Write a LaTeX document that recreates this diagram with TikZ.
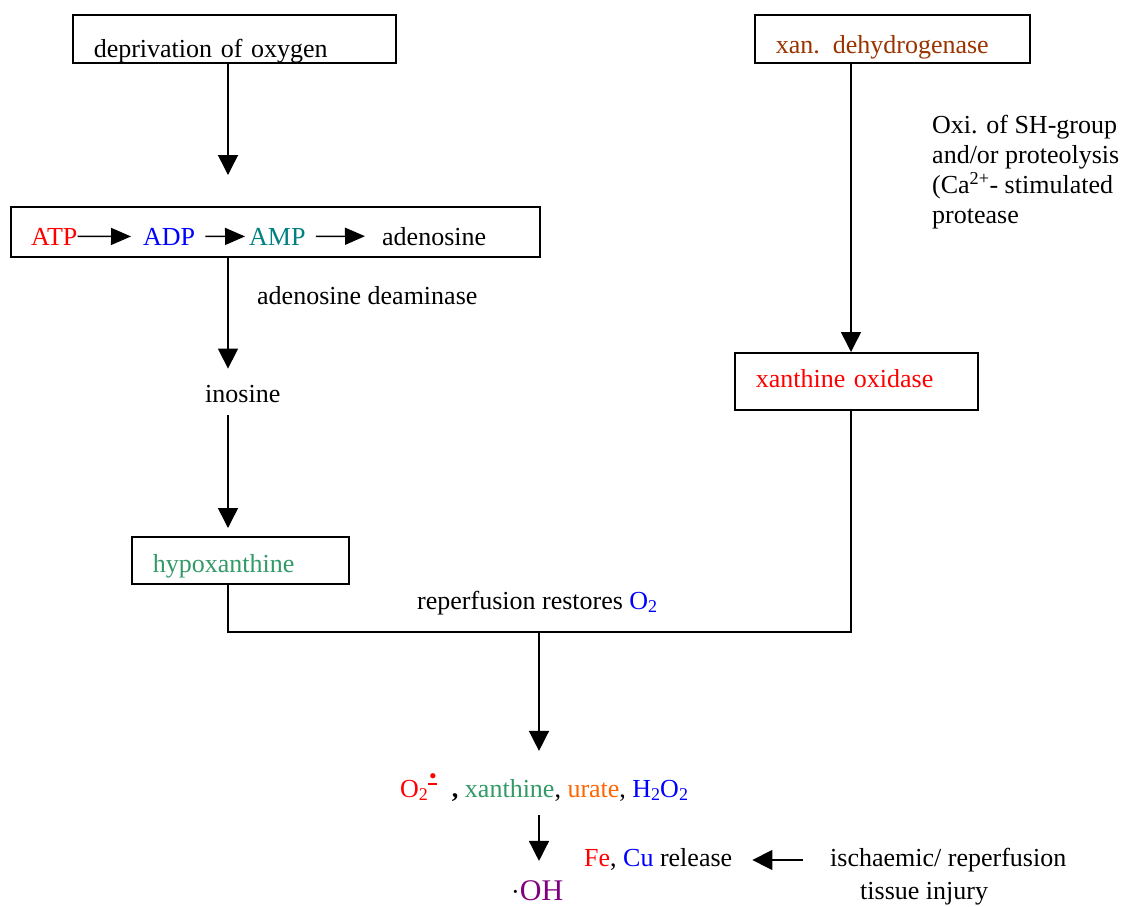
\documentclass[tikz,border=0pt]{standalone}
\usepackage{fontspec}
\setmainfont{Liberation Serif}
\usepackage{xcolor}
\definecolor{atpcolor}{HTML}{FF0000}
\definecolor{adpcolor}{HTML}{0000FF}
\definecolor{ampcolor}{HTML}{008080}
\definecolor{purinecolor}{HTML}{339966}
\definecolor{uratecolor}{HTML}{FF6600}
\definecolor{enzymecolor}{HTML}{993300}
\definecolor{oxidasecolor}{HTML}{FF0000}
\definecolor{radicalcolor}{HTML}{800080}
\usetikzlibrary{positioning,arrows.meta,calc}
\newcommand{\subnum}[1]{\raisebox{-3pt}{\fontsize{18}{18}\selectfont #1}}
\newcommand{\radicalmark}{\rlap{\makebox[10pt][c]{\raisebox{14pt}{\fontsize{22}{22}\selectfont\textbullet}}}\makebox[10pt][c]{\raisebox{12pt}{\rule{9pt}{1.6pt}}}}
\tikzset{
    box/.style={
        rectangle,
        draw=black,
        line width=1.5pt,
        anchor=north west,
        inner xsep=21pt,
        inner ysep=0pt,
        text depth=0pt,
    },
    txt/.style={
        inner sep=0pt,
        anchor=base west,
    },
    flow/.style={
        -{Triangle[length=20pt,width=20pt]},
        line width=1.5pt,
    },
    conv/.style={
        -{Triangle[length=20pt,width=17pt]},
        line width=1.5pt,
    },
    joinline/.style={
        line width=1.5pt,
    },
}

\begin{document}
\begin{tikzpicture}[x=1pt, y=-1pt, font=\fontsize{26}{30}\selectfont]
    \useasboundingbox (0,0) rectangle (1128,906);

    % Columns
    \coordinate (leftcol) at (228,0);
    \coordinate (rightcol) at (851,0);
    \coordinate (join) at (539,632);

    % Ischaemia side
    \node[box, text width=281pt, minimum width=323pt, minimum height=48pt, text height=38pt] (depriv) at (72,14) {deprivation of oxygen};

    \node[box, minimum width=529pt, minimum height=50pt] (atpbox) at (10,206) {};
    \node[txt, text=atpcolor] (atp) at (31,245) {ATP};
    \node[txt, text=adpcolor] (adp) at (143,245) {ADP};
    \node[txt, text=ampcolor] (amp) at (249,245) {AMP};
    \node[txt] (adenosine) at (382,245) {adenosine};

    \node[txt] (deaminase) at (257,304) {adenosine deaminase};
    \node[txt] (inosine) at (205,402) {inosine};

    \node[box, text width=175pt, minimum width=217pt, minimum height=47pt, text height=25pt, text=purinecolor] (hypox) at (131,536) {hypoxanthine};

    % Enzyme side
    \node[box, text width=233pt, minimum width=275pt, minimum height=48pt, text height=30pt, text=enzymecolor] (xdh) at (754,14) {xan. dehydrogenase};
    \node[txt, anchor=north west, align=left] (conversion) at (932,115) {Oxi. of SH-group\\and/or proteolysis\\(Ca\textsuperscript{2+}- stimulated\\protease};
    \node[box, text width=201pt, minimum width=243pt, minimum height=57pt, text height=18pt, text depth=5pt, text=oxidasecolor] (xo) at (734,352) {xanthine oxidase};

    % Reperfusion
    \node[txt] (reperf) at (417,609) {reperfusion restores \textcolor{adpcolor}{O\subnum{2}}};
    \node[txt] (products) at (400,797) {\textcolor{atpcolor}{O\subnum{2}\radicalmark}\hspace{14pt}\textbf{,} \textcolor{purinecolor}{xanthine}, \textcolor{uratecolor}{urate}, \textcolor{adpcolor}{H\subnum{2}O\subnum{2}}};
    \node[txt] (oh) at (511,900) {\textperiodcentered\textcolor{radicalcolor}{\fontsize{30}{32}\selectfont OH}};
    \node[txt] (release) at (584,866) {\textcolor{atpcolor}{Fe}, \textcolor{adpcolor}{Cu} release};
    \node[txt] (injury) at (830,866) {ischaemic/ reperfusion};
    \node[txt] (tissue) at (860,899) {tissue injury};

    % Connections
    \draw[conv, shorten >=12pt] (atp.east) -- (adp.west);
    \draw[conv, shorten <=10pt, shorten >=4pt] (adp.east) -- (amp.west);
    \draw[conv, shorten <=10pt, shorten >=17pt] (amp.east) -- (adenosine.west);

    \draw[flow, shorten >=31pt] (depriv.south -| leftcol) -- (atpbox.north -| leftcol);
    \draw[flow, shorten >=16pt] (atpbox.south -| leftcol) -- (inosine.north -| leftcol);
    \draw[flow, shorten <=13pt, shorten >=8pt] (inosine.south -| leftcol) -- (hypox.north -| leftcol);
    \draw[flow] (xdh.south -| rightcol) -- (xo.north -| rightcol);

    \draw[joinline] (hypox.south -| leftcol) |- (join) -| (xo.south -| rightcol);
    \draw[flow, shorten >=22pt] (join) -- (products.north -| join);
    \draw[flow, shorten <=14pt, shorten >=19pt] (products.south -| join) -- (oh.north -| join);
    \draw[flow, shorten <=27pt, shorten >=20pt] ([yshift=6pt]injury.base west) -- ([yshift=6pt]release.base east);

\end{tikzpicture}
\end{document}
